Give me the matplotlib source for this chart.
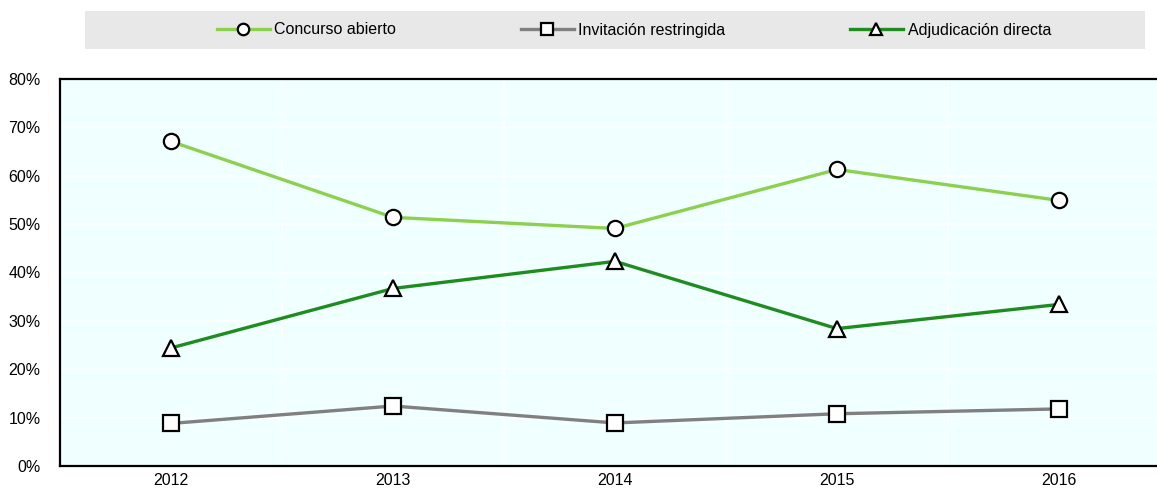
import matplotlib
matplotlib.use("Agg")
import matplotlib.pyplot as plt
from matplotlib.patches import Rectangle
from matplotlib.ticker import FixedLocator, PercentFormatter

plt.rcParams['font.family'] = ['Liberation Sans Narrow', 'Liberation Sans', 'DejaVu Sans']

years = ["2012", "2013", "2014", "2015", "2016"]
concurso = [67.1, 51.4, 49.1, 61.3, 54.9]
invitacion = [8.8, 12.4, 8.9, 10.8, 11.8]
adjudicacion = [24.4, 36.7, 42.3, 28.4, 33.4]
series_names = ["Concurso abierto", "Invitación restringida", "Adjudicación directa"]

W, H = 1157, 488
fig = plt.figure(figsize=(W / 100, H / 100), dpi=100)
ax = fig.add_axes([60 / W, (H - 466) / H, 1110 / W, 387 / H])
ax.set_facecolor('#F0FFFF')

x = list(range(len(years)))
c1, c2, c3 = '#8CD14E', '#808080', '#1E8C1E'
l1, = ax.plot(x, concurso, color=c1, lw=2.4, marker='o', ms=11, mfc='white',
              mec='black', mew=1.6, label=series_names[0], zorder=3)
l2, = ax.plot(x, invitacion, color=c2, lw=2.4, marker='s', ms=11.5, mfc='white',
              mec='black', mew=1.6, label=series_names[1], zorder=3)
l3, = ax.plot(x, adjudicacion, color=c3, lw=2.4, marker='^', ms=11.5, mfc='white',
              mec='black', mew=1.6, label=series_names[2], zorder=3)

ax.set_xlim(-0.5, len(years) - 0.5)
ax.set_ylim(0, 80)
ax.set_xticks(x)
ax.set_xticklabels(years)
ax.yaxis.set_major_locator(FixedLocator(range(0, 81, 10)))
ax.yaxis.set_major_formatter(PercentFormatter(decimals=0))
ax.xaxis.set_minor_locator(FixedLocator([i + 0.5 for i in x[:-1]]))
ax.tick_params(axis='both', which='both', length=0, labelsize=11.5, colors='black')
ax.tick_params(axis='y', pad=14)
ax.tick_params(axis='x', pad=5)
ax.grid(axis='y', which='major', color='white', lw=1.2)
ax.grid(axis='x', which='minor', color='white', lw=1.2)
ax.set_axisbelow(True)
for s in ['left', 'bottom', 'top']:
    ax.spines[s].set_color('black')
    ax.spines[s].set_linewidth(1.6)
ax.spines['right'].set_visible(False)

# legend band
fig.patches.append(Rectangle((85 / W, (H - 49) / H), 1060 / W, 38 / H,
                             transform=fig.transFigure, facecolor='#E8E8E8',
                             edgecolor='none', zorder=0))
leg = fig.legend(handles=[l1, l2, l3], loc='center', bbox_to_anchor=(634 / W, (H - 30) / H),
                 ncol=3, frameon=False, fontsize=11.5, handlelength=3.3,
                 handletextpad=0.3, columnspacing=7.8, markerscale=0.75)

fig.savefig('out.png', dpi=100)
